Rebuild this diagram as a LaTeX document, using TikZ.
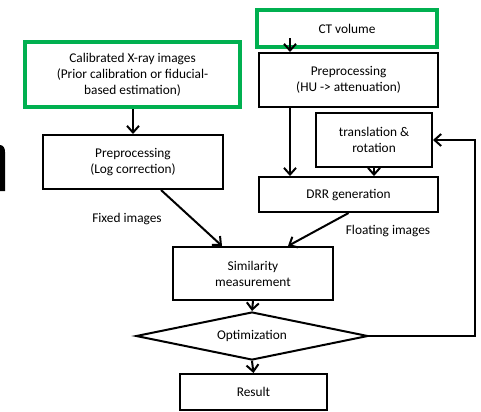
\documentclass[tikz,border=0pt]{standalone}
\usepackage{fontspec}
\setmainfont{Carlito}
\usetikzlibrary{arrows.meta,positioning,calc,shapes.geometric}
\definecolor{boxgreen}{RGB}{0,176,80}
\tikzset{
  blk/.style={draw,rectangle,line width=1.5pt,align=center,inner sep=2pt,font=\fontsize{10}{12}\selectfont},
  grnblk/.style={blk,draw=boxgreen,line width=3pt},
  decblk/.style={blk,diamond,inner sep=0pt,aspect=4.8},
  arr/.style={-{Straight Barb[length=5pt,width=9pt]},line width=1.5pt},
  lbl/.style={font=\fontsize{10}{12}\selectfont,align=center}
}

\begin{document}
\begin{tikzpicture}[x=1pt,y=-1pt]
  \useasboundingbox (0,0) rectangle (360.75,308.25);
  % cut-off glyph at the left edge
  \fill (0,108.75) .. controls (2.6,108.9) and (3.75,111) .. (3.75,114) -- (3.75,143.25) -- (0,143.25) -- cycle;

  \node[grnblk,minimum width=161.25pt,minimum height=48.75pt] (xray) at (99.4,55.9)
    {Calibrated X-ray images\\(Prior calibration or fiducial-\\based estimation)};
  \node[grnblk,minimum width=135pt,minimum height=27.75pt] (ct) at (260.25,21.4) {CT volume};
  \node[blk,minimum width=134.25pt,minimum height=40.5pt] (prephu) at (261.4,60)
    {Preprocessing\\(HU -> attenuation)};
  \node[blk,minimum width=87pt,minimum height=40.5pt] (trans) at (280.5,105) {translation \&\\rotation};
  \node[blk,minimum width=135pt,minimum height=40.5pt] (preplog) at (99.75,121.5)
    {Preprocessing\\(Log correction)};
  \node[blk,minimum width=134.25pt,minimum height=26.25pt] (drr) at (261.4,145.9) {DRR generation};
  \node[blk,minimum width=120pt,minimum height=39.75pt] (sim) at (189.75,205.1) {Similarity\\measurement};
  \node[decblk,minimum width=174pt,minimum height=36pt] (opt) at (189,252) {Optimization};
  \node[blk,minimum width=110.25pt,minimum height=27pt] (res) at (190.1,294) {Result};

  \node[lbl] (fixed) at (95.25,164.25) {Fixed images};
  \node[lbl] (float) at (291,173.25) {Floating images};

  \draw[arr] ([xshift=-42.75pt,yshift=8pt]ct.south) -- ([xshift=-43.9pt]prephu.north);
  \draw[arr] (preplog.north |- xray.south) -- (preplog.north);
  \draw[arr] ([xshift=-43.9pt]prephu.south) -- ([xshift=-43.9pt]drr.north);
  \draw[arr] (trans.south) -- (trans.south |- drr.north);
  \draw[arr] ([xshift=21pt]preplog.south) -- ([xshift=-23.25pt]sim.north);
  \draw[arr] (drr.south) -- ([xshift=26.25pt]sim.north);
  \draw[arr] (sim.south) -- (opt.north);
  \draw[arr] (opt.south) -- (res.north);
  \draw[arr] (opt.east) -- (356.25,252) |- (trans.east);
\end{tikzpicture}
\end{document}
